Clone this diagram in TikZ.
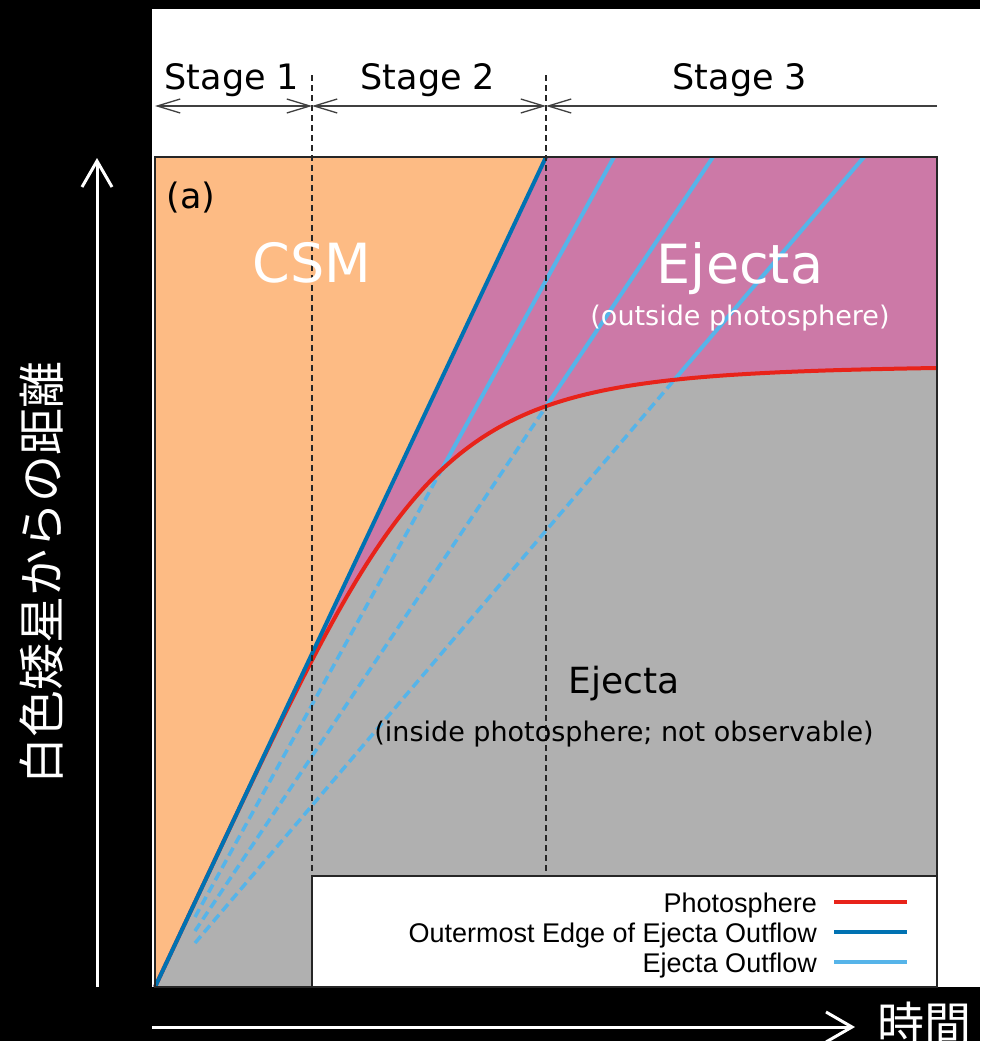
\documentclass[tikz,border=0pt]{standalone}
\usepackage{fontspec}
\setmainfont{DejaVu Sans}
\newfontfamily\legfont{Liberation Sans}
\newfontfamily\jpfont{Noto Sans CJK JP}
\usepackage{xcolor}
\definecolor{csmorange}{HTML}{FDBB84}
\definecolor{ejmauve}{HTML}{CC79A7}
\definecolor{intgris}{HTML}{B0B0B0}
\definecolor{photorouge}{HTML}{E8231A}
\definecolor{bordbleu}{HTML}{0072B2}
\definecolor{flotbleu}{HTML}{56B4E9}
\definecolor{cadre}{HTML}{262626}
\definecolor{fleche}{HTML}{404040}
\usepackage{tikz}
\usetikzlibrary{arrows.meta}

\begin{document}
\begin{tikzpicture}[x=1pt,y=-1pt,
  declare function={rph(\t)=2.123*\t/pow(1+pow(2.123*\t/622,4),0.25);},
  lbl/.style={font=\fontsize{35}{42}\selectfont,anchor=base,inner sep=0pt},
  big/.style={font=\fontsize{54}{60}\selectfont,anchor=base,inner sep=0pt,white},
  small/.style={font=\fontsize{27}{32}\selectfont,anchor=base,inner sep=0pt},
  leg/.style={font=\legfont\fontsize{27}{32}\selectfont,anchor=base east,inner sep=0pt},
  jp/.style={font=\jpfont\fontsize{47}{50}\selectfont,white,inner sep=0pt},
  sep/.style={cadre,line width=1.3pt,dash pattern=on 6pt off 4pt},
  fl/.style={draw=fleche,line width=1.3pt},
  barb/.tip={Straight Barb[length=23pt,width=14pt]},
  axe/.style={-{Straight Barb[length=26pt,width=30pt]},white,line width=3pt},
  photo/.style={photorouge,line width=4pt},
  bord/.style={bordbleu,line width=4pt},
  flot/.style={flotbleu,line width=4pt},
  flotint/.style={flotbleu,line width=3.5pt,dash pattern=on 9pt off 5pt}
]
\useasboundingbox (0,0) rectangle (980,1041);
% fond
\fill[black] (0,0) rectangle (980,1041);
\fill[white] (152,9) rectangle (980,987);
% points
\coordinate (o) at (155,987);
\coordinate (bt) at (546,157);
\coordinate (a0) at (195,917); \coordinate (a1) at (614,157);
\coordinate (b0) at (195,931); \coordinate (b1) at (713,157);
\coordinate (c0) at (195,943); \coordinate (c1) at (864,157);
% zones
\fill[ejmauve] (155,157) rectangle (937,987);
\fill[csmorange] (o) -- (bt) -- (155,157) -- cycle;
\fill[intgris] (o) -- plot[domain=0:782,samples=160] ({155+\x},{987-rph(\x)}) -- (937,987) -- cycle;
% ejecta en ecoulement
\begin{scope}
  \clip (o) -- plot[domain=0:782,samples=160] ({155+\x},{987-rph(\x)}) -- (937,987) -- cycle;
  \draw[flotint] (a0) -- (a1); \draw[flotint] (b0) -- (b1); \draw[flotint] (c0) -- (c1);
\end{scope}
\begin{scope}
  \clip (155,157) -- (o) -- plot[domain=0:782,samples=160] ({155+\x},{987-rph(\x)}) -- (937,157) -- cycle;
  \draw[flot] (a0) -- (a1); \draw[flot] (b0) -- (b1); \draw[flot] (c0) -- (c1);
\end{scope}
% photosphere et bord externe
\draw[photo] plot[domain=0:782,samples=160] ({155+\x},{987-rph(\x)});
\draw[bord] (o) -- (bt);
% legende
\draw[cadre,line width=1.3pt,fill=white] (312,876) rectangle (937,987);
\node[leg] (l1) at (817,912) {Photosphere};
\node[leg] (l2) at (817,942) {Outermost Edge of Ejecta Outflow};
\node[leg] (l3) at (817,972) {Ejecta Outflow};
\coordinate (p0) at (834,902); \coordinate (p1) at (907,902);
\coordinate (q0) at (834,932); \coordinate (q1) at (907,932);
\coordinate (r0) at (834,962); \coordinate (r1) at (907,962);
\draw[photo] (p0) -- (p1);
\draw[bord] (q0) -- (q1);
\draw[flot] (r0) -- (r1);
% cadre
\draw[cadre,line width=1.5pt] (155,157) rectangle (937,987);
% separations des etapes
\coordinate (t1h) at (312,75); \coordinate (t1b) at (312,876);
\coordinate (t2h) at (546,75); \coordinate (t2b) at (546,876);
\draw[sep] (t1h) -- (t1b);
\draw[sep] (t2h) -- (t2b);
\coordinate (s0) at (155,106); \coordinate (s1) at (312,106);
\coordinate (s2) at (546,106); \coordinate (s3) at (937,106);
\draw[fl,barb-barb] (s0) -- (s1);
\draw[fl,barb-barb] (s1) -- (s2);
\draw[fl,-barb] (s3) -- (s2);
\node[lbl] (st1) at (232,89) {Stage 1};
\node[lbl] (st2) at (428,89) {Stage 2};
\node[lbl] (st3) at (740,89) {Stage 3};
% textes
\node[lbl] (pa) at (191,208) {(a)};
\node[big] (csm) at (312,282) {CSM};
\node[big] (ejh) at (740,283) {Ejecta};
\node[small,white] (ejhs) at (740,325) {(outside photosphere)};
\node[lbl,font=\fontsize{36}{42}\selectfont] (ejb) at (624,693) {Ejecta};
\node[small] (ejbs) at (624,741) {(inside photosphere; not observable)};
% axes
\coordinate (yb) at (97,987); \coordinate (yh) at (97,158);
\coordinate (xg) at (152,1027); \coordinate (xd) at (855,1027);
\draw[axe] (yb) -- (yh);
\draw[axe] (xg) -- (xd);
\node[jp,rotate=90] (ylab) at (42,573) {白色矮星からの距離};
\node[jp,anchor=west] (xlab) at (877,1024) {時間};
\end{tikzpicture}
\end{document}
